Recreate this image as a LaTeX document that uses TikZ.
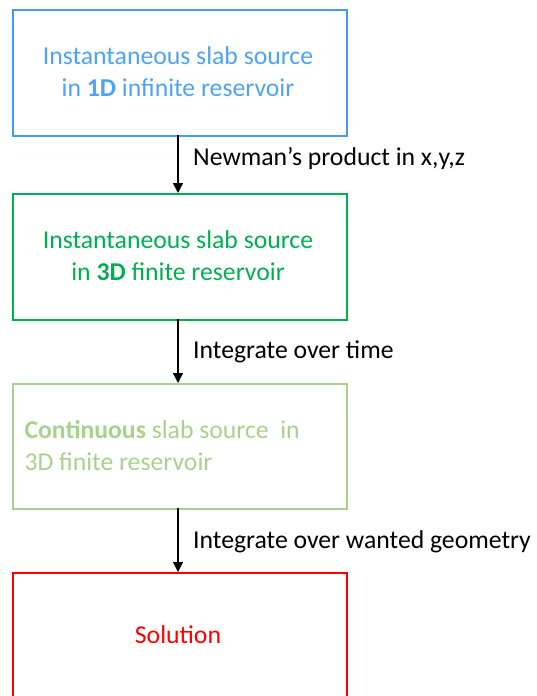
\documentclass[tikz,border=0pt]{standalone}
\usepackage{fontspec}
\setmainfont{Carlito}
\usetikzlibrary{arrows.meta}
\definecolor{cblue}{RGB}{66,154,250}
\definecolor{tblue}{RGB}{77,163,250}
\definecolor{cgreen}{RGB}{0,176,80}
\definecolor{clgreen}{RGB}{169,209,142}
\definecolor{cred}{RGB}{255,0,0}
\tikzset{
  box/.style={draw, line width=2pt, minimum width=334pt, minimum height=126pt, inner sep=0pt, anchor=north west},
  boxtext/.style={font=\fontsize{25.7}{32}\selectfont, align=center},
  lbl/.style={font=\fontsize{25.7}{32}\selectfont, anchor=base west, inner sep=0pt},
  conn/.style={line width=1.3pt, -{Triangle[width=10pt,length=10pt]}}
}
\begin{document}
\begin{tikzpicture}[x=1pt,y=-1pt]
\useasboundingbox (0,0) rectangle (537,696);
\begin{scope}
\clip (0,0) rectangle (537,696);
\node[box, draw=cblue] (b1) at (12,9) {};
\node[box, draw=cgreen] (b2) at (12,193) {};
\node[box, draw=clgreen, minimum height=125pt] (b3) at (12,383) {};
\node[box, draw=cred] (b4) at (12,572) {};
\end{scope}
\node[boxtext, text=tblue] (t1) at (178,72) {Instantaneous slab source\\in \textbf{1D} infinite reservoir};
\node[boxtext, text=cgreen] (t2) at (178,256) {Instantaneous slab source\\in \textbf{3D} finite reservoir};
\node[boxtext, text=clgreen, align=left, anchor=west] (t3) at (21,446) {\textbf{Continuous} slab source\ \ in\\3D finite reservoir};
\node[boxtext, text=cred, anchor=base] (t4) at (178,643) {Solution};
\coordinate (a1s) at (178,135);
\coordinate (a1e) at (178,193);
\coordinate (a2s) at (178,319);
\coordinate (a2e) at (178,383);
\coordinate (a3s) at (178,508);
\coordinate (a3e) at (178,572);
\draw[conn] (a1s) -- (a1e);
\draw[conn] (a2s) -- (a2e);
\draw[conn] (a3s) -- (a3e);
\node[lbl] (l1) at (193,165) {Newman’s product in x,y,z};
\node[lbl] (l2) at (193,358) {Integrate over time};
\node[lbl] (l3) at (193,548) {Integrate over wanted geometry};
\end{tikzpicture}
\end{document}
